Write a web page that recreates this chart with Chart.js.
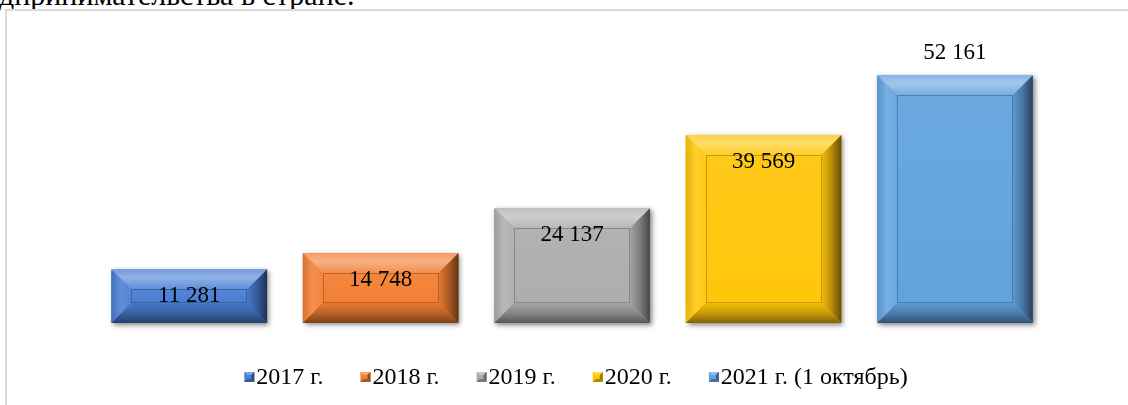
<!DOCTYPE html>
<html><head><meta charset="utf-8">
<script src="https://cdn.jsdelivr.net/npm/chart.js@4.4.1/dist/chart.umd.min.js"></script>
<style>
html,body{margin:0;padding:0;background:#fff;width:1128px;height:405px;overflow:hidden;position:relative}
#doc{position:absolute;left:-1px;top:-20px;font:30px/30px "Liberation Serif","Times New Roman",serif;color:#000;white-space:nowrap}
#frame{position:absolute;left:5px;top:9px;width:1300px;height:600px;border:2px solid #d9d9d9;box-sizing:border-box}
#wrap{position:absolute;left:0;top:0;width:1128px;height:405px}
</style></head><body>
<div id="doc">дпринимательства в стране.</div>
<div id="frame"></div>
<div id="wrap"><canvas id="c" width="1128" height="405"></canvas></div>
<script>
const categories = ['2017 г.', '2018 г.', '2019 г.', '2020 г.', '2021 г. (1 октябрь)'];
const values = [11281, 14748, 24137, 39569, 52161];
const colors = ['#4a7dd3', '#f27f33', '#adadad', '#ffc60a', '#62a2de'];
const yMin = 0;
const yMax = 60000;

const FONT = '"Liberation Serif", "Times New Roman", serif';

function fmt(v){ return String(v).replace(/\B(?=(\d{3})+(?!\d))/g, ' '); }
function hexToRgb(h){ h=h.replace('#',''); return [parseInt(h.substr(0,2),16),parseInt(h.substr(2,2),16),parseInt(h.substr(4,2),16)]; }
function mix(c, t, a){
  const r = hexToRgb(c);
  return 'rgb(' + r.map((v,i)=>Math.round(v + (t[i]-v)*a)).join(',') + ')';
}
function light(c,a){ return mix(c,[255,255,255],a); }
function dark(c,a){ return mix(c,[0,0,0],a); }
function poly(ctx, pts, fill){
  ctx.beginPath(); ctx.moveTo(pts[0][0],pts[0][1]);
  for(let i=1;i<pts.length;i++) ctx.lineTo(pts[i][0],pts[i][1]);
  ctx.closePath(); ctx.fillStyle=fill; ctx.fill();
}

const bevelPlugin = {
  id: 'bevel',
  afterDatasetsDraw(chart){
    const ctx = chart.ctx;
    const meta = chart.getDatasetMeta(0);
    meta.data.forEach((bar, i) => {
      const p = bar.getProps(['x','y','base','width'], true);
      const x0 = p.x - p.width/2, x1 = p.x + p.width/2, y0 = p.y, y1 = p.base;
      const h = y1 - y0, w = p.width;
      const b = Math.min(20, h/2 - 4, w/2 - 4);
      const c = colors[i];
      ctx.save();
      ctx.shadowColor = 'rgba(0,0,0,0.5)'; ctx.shadowBlur = 5; ctx.shadowOffsetX = 2; ctx.shadowOffsetY = 2;
      ctx.fillStyle = c; ctx.fillRect(x0, y0, w, h);
      ctx.restore();
      ctx.save();
      let g = ctx.createLinearGradient(0, y0, 0, y0+b);
      g.addColorStop(0, light(c,0.22)); g.addColorStop(0.4, light(c,0.4)); g.addColorStop(1, light(c,0.12));
      poly(ctx, [[x0,y0],[x1,y0],[x1-b,y0+b],[x0+b,y0+b]], g);
      g = ctx.createLinearGradient(x0, 0, x0+b, 0);
      g.addColorStop(0, dark(c,0.1)); g.addColorStop(0.5, light(c,0.14)); g.addColorStop(1, light(c,0.04));
      poly(ctx, [[x0,y0],[x0+b,y0+b],[x0+b,y1-b],[x0,y1]], g);
      g = ctx.createLinearGradient(x1, 0, x1-b, 0);
      g.addColorStop(0, dark(c,0.6)); g.addColorStop(0.5, dark(c,0.28)); g.addColorStop(1, dark(c,0.05));
      poly(ctx, [[x1,y0],[x1,y1],[x1-b,y1-b],[x1-b,y0+b]], g);
      g = ctx.createLinearGradient(0, y1, 0, y1-b);
      g.addColorStop(0, dark(c,0.5)); g.addColorStop(0.5, dark(c,0.22)); g.addColorStop(1, dark(c,0.05));
      poly(ctx, [[x0,y1],[x1,y1],[x1-b,y1-b],[x0+b,y1-b]], g);
      g = ctx.createLinearGradient(0, y0+b, 0, y1-b);
      g.addColorStop(0, light(c,0.06)); g.addColorStop(1, c);
      ctx.fillStyle = g;
      ctx.fillRect(x0+b, y0+b, w-2*b, h-2*b);
      ctx.strokeStyle = dark(c,0.22); ctx.lineWidth = 1;
      ctx.strokeRect(Math.round(x0+b)+0.5, Math.round(y0+b)+0.5, Math.round(w-2*b)-1, Math.round(h-2*b)-1);
      ctx.restore();
    });
    const maxV = Math.max(...values);
    ctx.save();
    ctx.font = '23px ' + FONT;
    ctx.fillStyle = '#000';
    ctx.textAlign = 'center';
    ctx.textBaseline = 'middle';
    meta.data.forEach((bar, i) => {
      const p = bar.getProps(['x','y'], true);
      const v = values[i];
      const ly = (v === maxV) ? p.y - 22 : p.y + 27;
      ctx.fillText(fmt(v), p.x, ly);
    });
    ctx.restore();
  }
};

const legendPlugin = {
  id: 'customLegend',
  afterDraw(chart){
    const ctx = chart.ctx;
    const labels = chart.data.labels;
    ctx.save();
    ctx.font = '24px ' + FONT;
    const box = 10, boxGap = 2, itemGap = 37;
    const widths = labels.map(l => ctx.measureText(l).width);
    const total = widths.reduce((a,b)=>a+b,0) + labels.length*(box+boxGap) + (labels.length-1)*itemGap;
    let x = 576 - total/2;
    const cy = 377;
    labels.forEach((l, i) => {
      const c = colors[i];
      const bx = x, by = cy - box/2;
      ctx.fillStyle = c; ctx.fillRect(bx, by, box, box);
      poly(ctx, [[bx,by],[bx+box,by],[bx+box-3,by+3],[bx+3,by+3]], light(c,0.3));
      poly(ctx, [[bx+box,by],[bx+box,by+box],[bx+box-3,by+box-3],[bx+box-3,by+3]], dark(c,0.4));
      poly(ctx, [[bx,by+box],[bx+box,by+box],[bx+box-3,by+box-3],[bx+3,by+box-3]], dark(c,0.3));
      ctx.fillStyle = '#000';
      ctx.textAlign = 'left';
      ctx.textBaseline = 'middle';
      ctx.fillText(l, x + box + boxGap, cy + 1);
      x += box + boxGap + widths[i] + itemGap;
    });
    ctx.restore();
  }
};

new Chart(document.getElementById('c'), {
  type: 'bar',
  data: {
    labels: categories,
    datasets: [{
      data: values,
      backgroundColor: 'rgba(0,0,0,0)',
      borderWidth: 0,
      categoryPercentage: 0.813,
      barPercentage: 1
    }]
  },
  options: {
    responsive: false,
    animation: false,
    layout: { padding: { left: 93.5, right: 77.3, top: 38, bottom: 82 } },
    plugins: { legend: { display: false }, tooltip: { enabled: false } },
    scales: {
      x: { display: false },
      y: { display: false, min: yMin, max: yMax }
    }
  },
  plugins: [bevelPlugin, legendPlugin]
});
</script>
</body></html>
